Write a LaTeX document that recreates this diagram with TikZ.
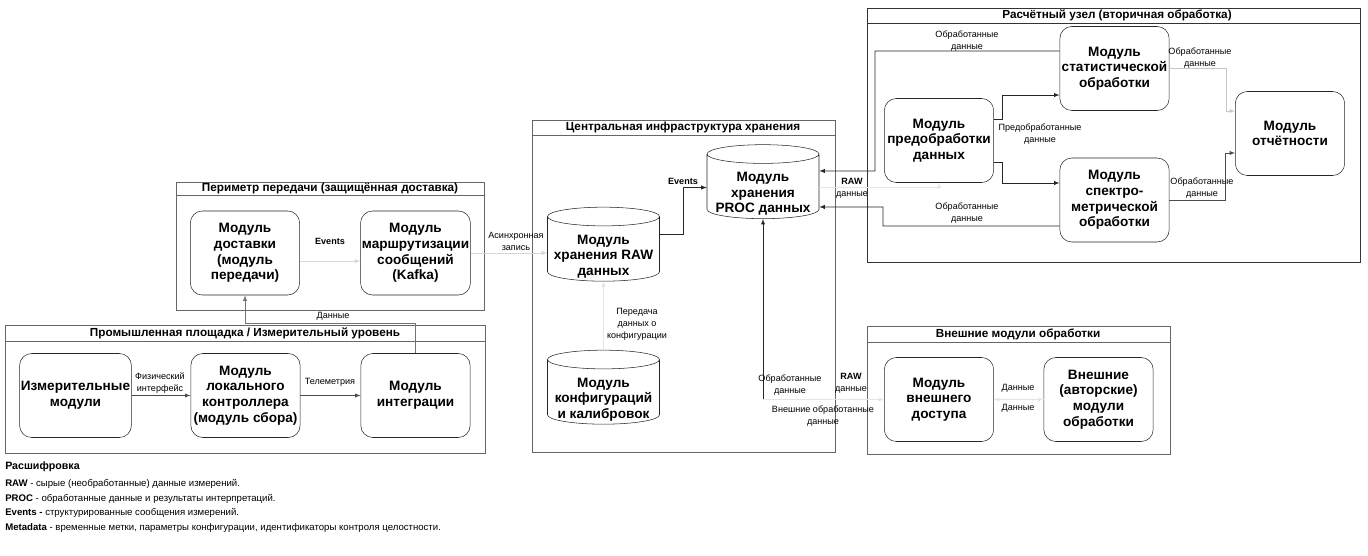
\documentclass[tikz,border=0pt]{standalone}
\usepackage{fontspec}
\setmainfont{Liberation Sans}
\usetikzlibrary{shapes.geometric}

\begin{document}
\begin{tikzpicture}[>=latex,x=0.75pt,y=-0.75pt,
    box/.style={draw=black!85,rounded corners=9pt,minimum width=82pt,minimum height=63pt,align=center,inner sep=1pt,font=\fontsize{10.2}{11.7}\selectfont\bfseries},
    db/.style={draw=black!85,cylinder,shape border rotate=90,aspect=0.18,text width=76pt,inner sep=1pt,minimum width=84pt,minimum height=55.5pt},
    dbtext/.style={align=center,inner sep=0pt,yshift=-4.8pt,font=\fontsize{10.2}{11.7}\selectfont\bfseries},
    frame/.style={draw=black!60,line width=0.6pt},
    ttl/.style={font=\fontsize{8.8}{10}\selectfont\bfseries,inner sep=0pt},
    lbl/.style={font=\fontsize{6.8}{9}\selectfont,align=center,inner sep=0pt},
    wire/.style={->,black!85,line width=0.45pt},
    faint/.style={->,black!10,line width=0.45pt},
    legend/.style={anchor=west,font=\fontsize{7.2}{8}\selectfont,inner sep=0pt}]
    \useasboundingbox (0,0) rectangle (1368,556);

    % frames
    \draw[frame] (176,182) rectangle (484,310) (176,195) -- (484,195);
    \node[ttl] (perimT) at (330,188.5) {Периметр передачи (защищённая доставка)};
    \draw[frame] (5,325) rectangle (485,453) (5,341) -- (485,341);
    \node[ttl] (plantT) at (245,333) {Промышленная площадка / Измерительный уровень};
    \draw[frame] (532,120) rectangle (835,452) (532,135) -- (835,135);
    \node[ttl] (storeT) at (683,127.5) {Центральная инфраструктура хранения};
    \draw[frame,black!80] (867,8) rectangle (1360,262) (867,23) -- (1360,23);
    \node[ttl] (calcT) at (1117,15.5) {Расчётный узел (вторичная обработка)};
    \draw[frame] (867,326) rectangle (1170,454) (867,342) -- (1170,342);
    \node[ttl] (extT) at (1018,334) {Внешние модули обработки};

    % modules
    \node[box] (deliv) at (245,253) {Модуль\\доставки\\(модуль\\передачи)};
    \node[box] (kafka) at (415.5,253) {Модуль\\маршрутизации\\сообщений\\(Kafka)};
    \node[box] (meas) at (75.5,395.5) {Измерительные\\модули};
    \node[box] (ctrl) at (245.5,395.5) {Модуль\\локального\\контроллера\\(модуль сбора)};
    \node[box] (integ) at (415.5,395.5) {Модуль\\интеграции};
    \node[db,label={[dbtext]center:Модуль\\хранения\\PROC данных}] (proc) at (763,187.5) {};
    \node[db,label={[dbtext]center:Модуль\\хранения RAW\\данных}] (raw) at (603.5,250) {};
    \node[db,label={[dbtext]center:Модуль\\конфигураций\\и калибровок}] (conf) at (603.5,393) {};
    \node[box] (prep) at (939,140.5) {Модуль\\предобработки\\данных};
    \node[box] (stat) at (1114.5,68.5) {Модуль\\статистической\\обработки};
    \node[box] (spec) at (1114.5,200) {Модуль\\спектро-\\метрической\\обработки};
    \node[box] (rep) at (1290,133.5) {Модуль\\отчётности};
    \node[box] (ext) at (939,399.5) {Модуль\\внешнего\\доступа};
    \node[box] (auth) at (1098.5,399.5) {Внешние\\(авторские)\\модули\\обработки};

    % connectors
    \draw[faint,black!16] ([yshift=-6pt]deliv.east) -- ([yshift=-6pt]kafka.west);
    \draw[faint,black!16] (kafka.east) -- (kafka.east -| raw.west);
    \draw[wire,black!70] (meas) -- (ctrl);
    \draw[wire,black!70] (ctrl) -- (integ);
    \draw[wire,black!55] (integ.north) -- ++(0,-30) -| (deliv.south);
    \draw[wire] ([yshift=12pt]raw.east) -- ++(24,0) |- (proc.west);
    \draw[faint] (conf.north) -- (raw.south);
    \draw[wire] (proc.south |- ext.west) -- (proc.south);
    \draw[faint] (proc.south |- ext.west) -- (ext.west);
    \draw[wire] ([yshift=13.1pt]stat.west) -| (875,171) -- ([yshift=12.4pt]proc.east);
    \draw[wire] ([yshift=-19.5pt]spec.west) -| (883,207) -- ([yshift=-14.6pt]proc.east);
    \draw[faint] (proc.east) -| (prep.south);
    \draw[wire] ([yshift=16.1pt]prep.east) -- ++(8,0) |- ([yshift=-19.9pt]stat.west);
    \draw[wire] ([yshift=-16.1pt]prep.east) -- ++(8,0) |- ([yshift=12.75pt]spec.west);
    \draw[faint,black!22] (stat.east) -- ++(57,0) |- ([yshift=16.9pt]rep.west);
    \draw[wire,black!70] (spec.east) -- ++(56,0) |- ([yshift=-14.6pt]rep.west);
    \draw[faint] (ext.east) -- (auth.west);
    \draw[faint] (auth.west) -- (ext.east);

    % labels
    \node[lbl,font=\fontsize{6.8}{9}\selectfont\bfseries] (lEv1) at (330,241) {Events};
    \node[lbl] (lAs) at (516,241) {Асинхронная\\запись};
    \node[lbl] (lPh) at (160,383) {Физический\\интерфейс};
    \node[lbl] (lTe) at (330,382) {Телеметрия};
    \node[lbl] (lDa) at (333,316) {Данные};
    \node[lbl,font=\fontsize{6.8}{9}\selectfont\bfseries] (lEv2) at (683,181) {Events};
    \node[lbl] (lCf) at (637,324) {Передача\\данных о\\конфигурации};
    \node[lbl] (lPr1) at (790,385) {Обработанные\\данные};
    \node[lbl] (lRaw2) at (851,383) {\textbf{RAW}\\данные};
    \node[lbl] (lExt) at (823,416) {Внешние обработанные\\данные};
    \node[lbl] (lRaw1) at (852,188) {\textbf{RAW}\\данные};
    \node[lbl] (lSt) at (967,41) {Обработанные\\данные};
    \node[lbl] (lSp) at (967,213) {Обработанные\\данные};
    \node[lbl] (lPre) at (1040,134) {Предобработанные\\данные};
    \node[lbl] (lSr) at (1200,58) {Обработанные\\данные};
    \node[lbl] (lSpr) at (1202,188) {Обработанные\\данные};
    \node[lbl] (lD1) at (1018,388) {Данные};
    \node[lbl] (lD2) at (1018,408) {Данные};

    % legend
    \node[legend,font=\fontsize{8}{10}\selectfont\bfseries] (legT) at (5,467) {Расшифровка};
    \node[legend] (leg1) at (5,484) {\textbf{RAW} - сырые (необработанные) данные измерений.};
    \node[legend] (leg2) at (5,499) {\textbf{PROC} - обработанные данные и результаты интерпретаций.};
    \node[legend] (leg3) at (5,513) {\textbf{Events -} структурированные сообщения измерений.};
    \node[legend] (leg4) at (5,528) {\textbf{Metadata} - временные метки, параметры конфигурации, идентификаторы контроля целостности.};
\end{tikzpicture}
\end{document}
